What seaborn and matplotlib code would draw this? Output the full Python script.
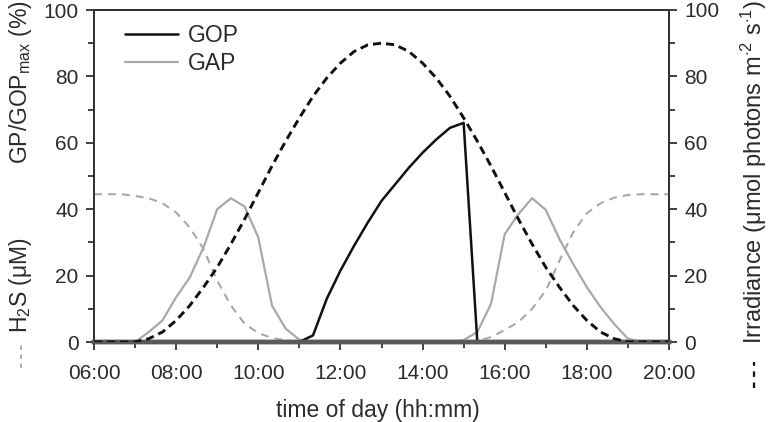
import numpy as np
import pandas as pd
import matplotlib
matplotlib.use("Agg")
import matplotlib.pyplot as plt
from matplotlib.lines import Line2D
import seaborn as sns

# time grid: 20-minute steps from 06:00 to 20:00 (hours)
time_h = np.round(np.arange(6, 20 + 1e-9, 1 / 3), 4)

gop = [0, 0, 0, 0, 0, 0, 0, 0, 0, 0, 0, 0, 0, 0, 0, 0,
       2, 13, 21.5, 29, 36, 42.5, 47.5, 52.5, 57, 61, 64.5, 66,
       0, 0, 0, 0, 0, 0, 0, 0, 0, 0, 0, 0, 0, 0, 0]

gap = [0, 0, 0, 0, 3, 6.5, 13.5, 19.5, 28.5, 40, 43.3, 40.8, 31.5, 11, 4, 0.7,
       0, 0, 0, 0, 0, 0, 0, 0, 0, 0, 0,
       0.6, 3, 11.5, 32.5, 38.5, 43.3, 39.8, 31, 23.5, 16.5, 10.5, 5.4, 1,
       0, 0, 0]

h2s = [44.5, 44.5, 44.5, 44, 43.3, 41.8, 39, 34.5, 28, 18.5, 11, 5.5, 2.7, 1.2, 0.5, 0,
       0, 0, 0, 0, 0, 0, 0, 0, 0, 0, 0, 0,
       0.3, 1.5, 3.6, 6, 10, 15.5, 24.5, 33, 38.8, 41.8, 43.5, 44.3, 44.5, 44.5, 44.5]

irradiance = [0, 0, 0,
              0, 1, 3, 6.5, 11, 16.5, 22.5, 29.5, 37, 45, 53, 60.5, 67.5, 74, 79.5, 84, 87.5, 89.5,
              90,
              89.5, 87.5, 84, 79.5, 74, 67.5, 60.5, 53, 45, 37, 29.5, 22.5, 16.5, 11, 6.5, 3, 1, 0,
              0, 0, 0]

xtick_labels = ["06:00", "08:00", "10:00", "12:00", "14:00", "16:00", "18:00", "20:00"]

df = pd.DataFrame({"t": time_h, "GOP": gop, "GAP": gap, "H2S": h2s, "Irr": irradiance})

sns.set_style("ticks")
plt.rcParams["font.family"] = ["Liberation Sans", "DejaVu Sans"]
plt.rcParams["mathtext.fontset"] = "custom"
plt.rcParams["mathtext.rm"] = "Liberation Sans"
plt.rcParams["mathtext.it"] = "Liberation Sans"

TXT = "#2b2b2b"
SP = "#333333"
BLK = "#111111"
GRY = "#a9a9a9"

TICK_FS = 15
LAB_FS = 16.5

fig = plt.figure(figsize=(7.72, 4.22), dpi=100)
ax = fig.add_axes([94 / 772, 1 - 342 / 422, 575 / 772, 332 / 422])
ax2 = ax.twinx()

sns.lineplot(data=df, x="t", y="H2S", ax=ax, color=GRY, lw=1.5,
             linestyle=(0, (3.8, 2.9)), legend=False, zorder=3)
sns.lineplot(data=df, x="t", y="GAP", ax=ax, color=GRY, lw=1.6, legend=False, zorder=3)
sns.lineplot(data=df, x="t", y="GOP", ax=ax, color=BLK, lw=1.8, legend=False, zorder=3)
sns.lineplot(data=df, x="t", y="Irr", ax=ax2, color=BLK, lw=2.1,
             linestyle=(0, (2.8, 1.7)), legend=False, zorder=3)

for a in (ax, ax2):
    a.set_xlim(6, 20)
    a.set_ylim(0, 100)
    a.set_xlabel("")
    a.set_ylabel("")
    for s in a.spines.values():
        s.set_visible(True)
        s.set_color(SP)
        s.set_linewidth(1.3)
    a.spines["bottom"].set_linewidth(3.2)
    a.spines["bottom"].set_color("#5a5a5a")

ax.set_xticks(np.arange(6, 21, 2))
ax.set_xticklabels(xtick_labels)
ax.set_xticks(np.arange(7, 20, 2), minor=True)
ax.set_yticks(np.arange(0, 101, 20))
ax.set_yticks(np.arange(10, 100, 20), minor=True)
ax2.set_yticks(np.arange(0, 101, 20))
ax2.set_yticks(np.arange(10, 100, 20), minor=True)

for a in (ax, ax2):
    a.tick_params(axis="both", which="major", length=6, width=1.3, color=SP,
                  labelsize=TICK_FS, labelcolor=TXT, direction="out", pad=5)
    a.tick_params(axis="both", which="minor", length=4, width=1.3, color=SP, direction="out")
ax.tick_params(axis="x", which="major", pad=10)

fig.text(378 / 772, 1 - 410 / 422, "time of day (hh:mm)", ha="center", va="center",
         fontsize=LAB_FS, color=TXT)

handles = [Line2D([], [], color=BLK, lw=1.8), Line2D([], [], color=GRY, lw=1.6)]
ax.legend(handles, ["GOP", "GAP"], loc="upper left", bbox_to_anchor=(0.018, 1.02),
          frameon=False, fontsize=LAB_FS, handlelength=2.3, handletextpad=0.45,
          labelspacing=0.2, labelcolor=TXT)

# left composite label
fig.text(21 / 772, 1 - 82 / 422, "GP/GOP$_{\\mathrm{max}}$ (%)", rotation=90,
         ha="center", va="center", fontsize=LAB_FS, color=TXT)
fig.text(21 / 772, 1 - 285 / 422, "H$_2$S (μM)", rotation=90,
         ha="center", va="center", fontsize=LAB_FS, color=TXT)
fig.add_artist(Line2D([21 / 772, 21 / 772], [1 - 368 / 422, 1 - 345 / 422],
                      transform=fig.transFigure, color=GRY, lw=1.3,
                      linestyle=(0, (2.5, 2.5))))

# right label
fig.text(754 / 772, 1 - 172 / 422, "Irradiance (μmol photons m$^{\\cdot 2}$ s$^{\\cdot 1}$)",
         rotation=90, ha="center", va="center", fontsize=17, color=TXT)
fig.add_artist(Line2D([754 / 772, 754 / 772], [1 - 388 / 422, 1 - 362 / 422],
                      transform=fig.transFigure, color=BLK, lw=1.6,
                      linestyle=(0, (2.5, 2.5))))

fig.savefig("out.png", dpi=100)
